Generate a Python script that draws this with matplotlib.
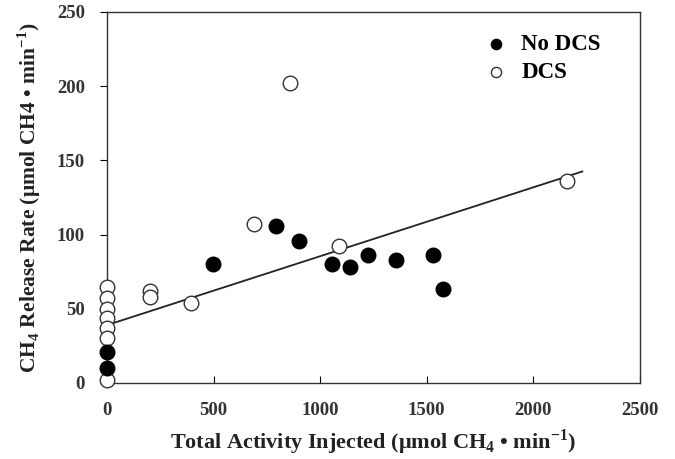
import matplotlib.pyplot as plt

plt.rcParams['font.family'] = ['Liberation Serif', 'DejaVu Serif']
plt.rcParams['mathtext.fontset'] = 'custom'
plt.rcParams['mathtext.rm'] = 'Liberation Serif:bold'
plt.rcParams['mathtext.bf'] = 'Liberation Serif:bold'

# No DCS (filled)
nodcs_x = [0, 0, 495, 795, 900, 1055, 1140, 1225, 1355, 1530, 1575]
nodcs_y = [21, 10, 80, 106, 96, 80, 78, 86, 83, 86, 63]

# DCS (open)
dcs_x = [0, 0, 0, 0, 0, 0, 0, 200, 200, 395, 690, 860, 1090, 2160]
dcs_y = [65, 57, 50, 44, 37, 30, 2, 62, 58, 54, 107, 202, 92, 136]

# regression line end points
fit_x = [0, 2230]
fit_y = [39, 142.5]

fig = plt.figure(figsize=(6.75, 4.59), dpi=100)
ax = fig.add_axes([0.1585, 0.1656, 0.7895, 0.8084])

ax.plot(fit_x, fit_y, color='#222222', lw=1.3, zorder=2)
ax.scatter(dcs_x, dcs_y, s=110, facecolor='white', edgecolor='#333333',
           linewidth=1.0, label='DCS', zorder=3, clip_on=False)
ax.scatter(nodcs_x, nodcs_y, s=110, facecolor='black', edgecolor='black',
           label='No DCS', zorder=4, clip_on=False)

ax.set_xlim(0, 2500)
ax.set_ylim(0, 250)
ax.set_xticks([0, 500, 1000, 1500, 2000, 2500])
ax.set_yticks([0, 50, 100, 150, 200, 250])
ax.tick_params(axis='y', direction='out', length=5, labelsize=13.5, pad=11)
ax.tick_params(axis='x', direction='in', length=5, labelsize=13.5, pad=14)
for lab in ax.get_xticklabels() + ax.get_yticklabels():
    lab.set_fontweight('bold')
    lab.set_color('#333333')
for sp in ax.spines.values():
    sp.set_linewidth(1.0)
    sp.set_color('#333333')

ax.set_xlabel('Total Activity Injected (\u03bcmol CH$_4$ \u2022 min$^{-1}$)',
              fontsize=16, fontweight='bold', labelpad=6, color='#222222')
ax.set_ylabel('CH$_4$ Release Rate (\u03bcmol CH4 \u2022 min$^{-1}$)',
              fontsize=15.5, fontweight='bold', labelpad=10, color='#222222')

h, l = ax.get_legend_handles_labels()
leg = ax.legend(h[::-1], l[::-1], loc='upper right', frameon=False,
                bbox_to_anchor=(0.965, 0.995), handletextpad=0.1,
                labelspacing=0.3, markerscale=0.7,
                prop={'weight': 'bold', 'size': 16.5})

fig.savefig('out.png', dpi=100)
